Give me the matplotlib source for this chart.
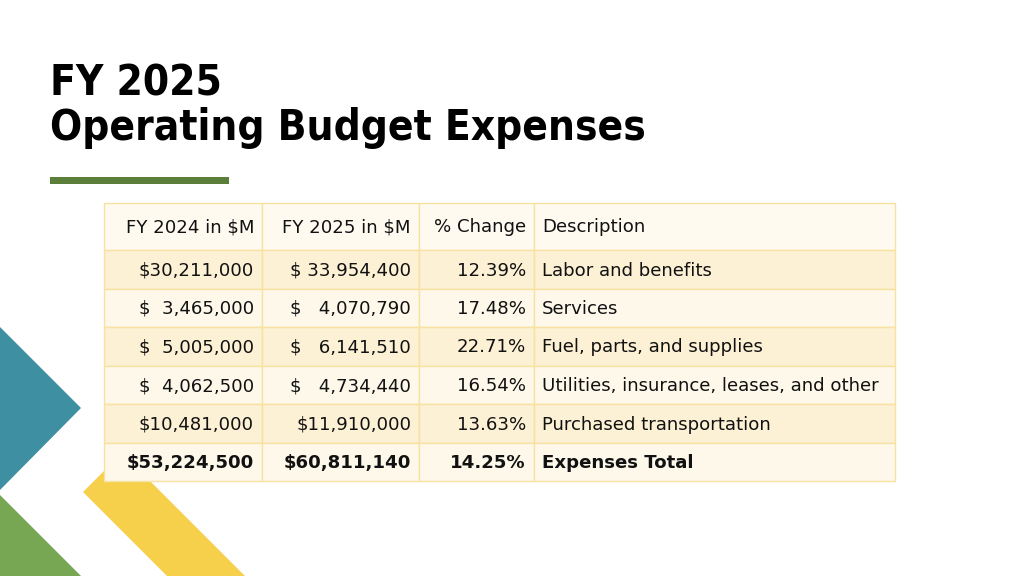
import matplotlib.pyplot as plt
from matplotlib.patches import Rectangle, Polygon

# table content
headers = ["FY 2024 in $M", "FY 2025 in $M", "% Change", "Description"]
fy2024 = ["$30,211,000", "$  3,465,000", "$  5,005,000", "$  4,062,500", "$10,481,000", "$53,224,500"]
fy2025 = ["$ 33,954,400", "$   4,070,790", "$   6,141,510", "$   4,734,440", "$11,910,000", "$60,811,140"]
pct_change = ["12.39%", "17.48%", "22.71%", "16.54%", "13.63%", "14.25%"]
descriptions = ["Labor and benefits", "Services", "Fuel, parts, and supplies",
                "Utilities, insurance, leases, and other", "Purchased transportation",
                "Expenses Total"]

TITLE_FONT = ["DejaVu Sans Condensed", "DejaVu Sans"]
BODY_FONT = ["DejaVu Sans"]

fig = plt.figure(figsize=(10.24, 5.76), dpi=100)
ax = fig.add_axes([0, 0, 1, 1])
ax.set_xlim(0, 1024)
ax.set_ylim(576, 0)
ax.axis("off")

# decorative shapes on the left
ax.add_patch(Polygon([(0, 327), (81, 408), (0, 490)], closed=True, color="#3e8fa1", lw=0))
ax.add_patch(Polygon([(0, 495), (81, 576), (0, 576)], closed=True, color="#78a753", lw=0))
ax.add_patch(Polygon([(83, 492), (122, 453), (245, 576), (167, 576)], closed=True,
                     color="#f6d04a", lw=0))

# title
ax.text(50, 95, "FY 2025", fontsize=30.3, fontweight="bold", fontstretch="condensed",
        family=TITLE_FONT, va="baseline")
ax.text(50, 140, "Operating Budget Expenses", fontsize=30.3, fontweight="bold",
        fontstretch="condensed", family=TITLE_FONT, va="baseline")
ax.add_patch(Rectangle((50, 177), 179, 7, color="#5b7f3b", lw=0))

# table grid
col_edges = [104, 262, 419, 534, 895]
row_edges = [203, 250, 289, 327, 366, 404, 443, 481]
row_colors = ["#fefaf0", "#fcf0d5", "#fdf8ea", "#fcf0d5", "#fdf8ea", "#fcf0d5", "#fdf8ea"]
border = "#f7e2a2"

for r in range(len(row_edges) - 1):
    y0, y1 = row_edges[r], row_edges[r + 1]
    for c in range(len(col_edges) - 1):
        x0, x1 = col_edges[c], col_edges[c + 1]
        ax.add_patch(Rectangle((x0, y0), x1 - x0, y1 - y0, facecolor=row_colors[r],
                               edgecolor=border, lw=1.0, zorder=2))

def row_mid(r):
    return (row_edges[r] + row_edges[r + 1]) / 2 + 6

pad = 8
fs = 13.1
# header
for c, h in enumerate(headers):
    if c < 3:
        ax.text(col_edges[c + 1] - pad, row_mid(0), h, ha="right", va="baseline",
                fontsize=fs, family=BODY_FONT, color="#111111", zorder=3)
    else:
        ax.text(col_edges[c] + pad, row_mid(0), h, ha="left", va="baseline",
                fontsize=fs, family=BODY_FONT, color="#111111", zorder=3)

n = len(descriptions)
for i in range(n):
    r = i + 1
    weight = "bold" if i == n - 1 else "normal"
    for c, val in enumerate([fy2024[i], fy2025[i], pct_change[i]]):
        ax.text(col_edges[c + 1] - pad, row_mid(r), val, ha="right", va="baseline",
                fontsize=fs, family=BODY_FONT, fontweight=weight, color="#111111", zorder=3)
    ax.text(col_edges[3] + pad, row_mid(r), descriptions[i], ha="left", va="baseline",
            fontsize=fs, family=BODY_FONT, fontweight=weight, color="#111111", zorder=3)

fig.savefig("out.png", dpi=100, facecolor="white")
